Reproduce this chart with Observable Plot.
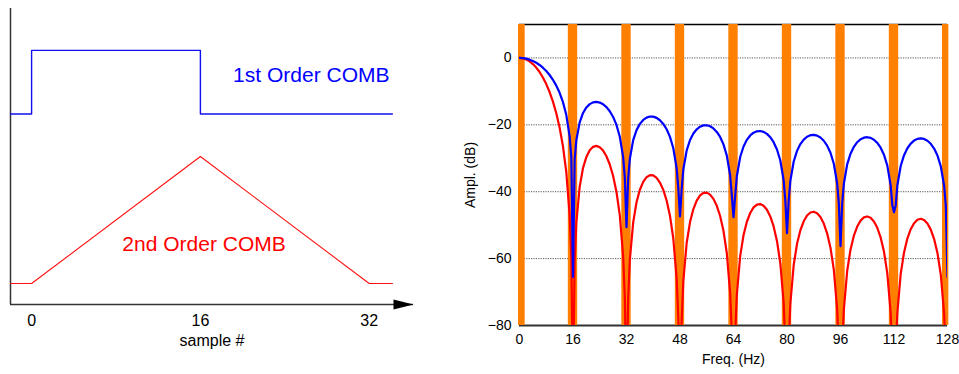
<!DOCTYPE html>
<html>
<head>
<meta charset="utf-8">
<script src="https://cdn.jsdelivr.net/npm/d3@7"></script>
<script src="https://cdn.jsdelivr.net/npm/@observablehq/plot@0.6"></script>
<style>
html, body { margin: 0; padding: 0; background: #fff; }
#wrap { position: relative; width: 959px; height: 374px; overflow: hidden; font-family: "Liberation Sans", Arial, Helvetica, sans-serif; }
#left { position: absolute; left: 0; top: 0; }
#right { position: absolute; left: 430px; top: 0; }
</style>
</head>
<body>
<div id="wrap"><div id="left"></div><div id="right"></div></div>
<script>
// ---------- Left panel data (impulse responses, schematic) ----------
const sampleTicks = [0, 16, 32];
const comb1Sample = [-2, 0, 0, 16, 16, 34.2];
const comb1Level  = [3, 3, 4, 4, 3, 3];
const comb2Sample = [-2, 0, 16, 32, 34.2];
const comb2Level  = [0.33, 0.33, 2.33, 0.33, 0.33];
const labelText   = ["1st Order COMB", "2nd Order COMB"];
const labelSample = [19.1, 8.6];
const labelLevel  = [3.5, 0.84];
const labelColor  = ["#0000ff", "#ff0000"];

// ---------- Right panel data (frequency response, dB) ----------
const freqTicks = [0, 16, 32, 48, 64, 80, 96, 112, 128];
const dbTicks = [0, -20, -40, -60, -80];
const dbGrid = [0, -20, -40, -60];
const bandLo = [-0.3, 14.6, 30.6, 46.6, 62.6, 78.6, 94.6, 110.6, 126.5];
const bandHi = [1.7, 17.4, 33.4, 49.4, 65.4, 81.4, 97.4, 113.4, 128.4];

const comb1Db = [
[0,0],[1,-0.06],[2,-0.22],[3,-0.51],[4,-0.91],[5,-1.44],[6,-2.10],[7,-2.92],[8,-3.91],[9,-5.10],[10,-6.53],[11,-8.27],[12,-10.42],[13,-13.21],[14,-17.08],[15,-23.53],[15.5,-29.78],[16,-65.5],[16.5,-30.32],
[17,-24.60],[18,-19.24],[19,-16.46],[20,-14.80],[21,-13.81],[22,-13.29],[23,-13.15],[24,-13.34],[25,-13.85],[26,-14.70],[27,-15.93],[28,-17.64],[29,-20.03],[30,-23.55],[31,-29.67],[31.5,-35.78],[32,-50.6],[32.5,-36.04],
[33,-30.19],[34,-24.58],[35,-21.58],[36,-19.71],[37,-18.53],[38,-17.83],[39,-17.52],[40,-17.55],[41,-17.92],[42,-18.63],[43,-19.73],[44,-21.31],[45,-23.59],[46,-26.99],[47,-33.01],[47.5,-39.07],[48,-47.4],[48.5,-39.23],
[49,-33.33],[50,-27.63],[51,-24.54],[52,-22.59],[53,-21.33],[54,-20.55],[55,-20.17],[56,-20.13],[57,-20.43],[58,-21.07],[59,-22.11],[60,-23.63],[61,-25.85],[62,-29.20],[63,-35.16],[63.5,-41.19],[64,-47.6],[64.5,-41.29],
[65,-35.37],[66,-29.62],[67,-26.49],[68,-24.49],[69,-23.18],[70,-22.35],[71,-21.93],[72,-21.85],[73,-22.10],[74,-22.70],[75,-23.70],[76,-25.19],[77,-27.36],[78,-30.68],[79,-36.60],[79.5,-42.61],[80,-52.4],[80.5,-42.69],
[81,-36.75],[82,-30.96],[83,-27.79],[84,-25.76],[85,-24.42],[86,-23.56],[87,-23.10],[88,-22.99],[89,-23.22],[90,-23.79],[91,-24.76],[92,-26.22],[93,-28.36],[94,-31.65],[95,-37.55],[95.5,-43.54],[96,-56.3],[96.5,-43.58],
[97,-37.63],[98,-31.82],[99,-28.63],[100,-26.57],[101,-25.20],[102,-24.32],[103,-23.84],[104,-23.70],[105,-23.90],[106,-24.45],[107,-25.39],[108,-26.83],[109,-28.95],[110,-32.21],[111,-38.09],[111.5,-44.07],[112,-46.1],[112.5,-44.09],
[113,-38.13],[114,-32.30],[115,-29.08],[116,-27.00],[117,-25.61],[118,-24.71],[119,-24.20],[120,-24.04],[121,-24.22],[122,-24.75],[123,-25.67],[124,-27.08],[125,-29.18],[126,-32.42],[127,-38.28],[127.5,-44.26],[128,-65.5]
];

const comb2Db = [
[0,0],[1,-0.11],[2,-0.45],[3,-1.01],[4,-1.82],[5,-2.88],[6,-4.21],[7,-5.84],[8,-7.82],[9,-10.19],[10,-13.05],[11,-16.53],[12,-20.85],[13,-26.42],[14,-34.17],[15,-47.06],[15.5,-59.56],[16,-100],[16.5,-60.64],
[17,-49.20],[18,-38.48],[19,-32.92],[20,-29.60],[21,-27.62],[22,-26.58],[23,-26.30],[24,-26.68],[25,-27.70],[26,-29.40],[27,-31.86],[28,-35.28],[29,-40.06],[30,-47.10],[31,-59.34],[31.5,-71.56],[32,-100],[32.5,-72.08],
[33,-60.38],[34,-49.16],[35,-43.16],[36,-39.42],[37,-37.06],[38,-35.66],[39,-35.04],[40,-35.10],[41,-35.84],[42,-37.26],[43,-39.46],[44,-42.62],[45,-47.18],[46,-53.98],[47,-66.02],[47.5,-78.14],[48,-100],[48.5,-78.46],
[49,-66.66],[50,-55.26],[51,-49.08],[52,-45.18],[53,-42.66],[54,-41.10],[55,-40.34],[56,-40.26],[57,-40.86],[58,-42.14],[59,-44.22],[60,-47.26],[61,-51.70],[62,-58.40],[63,-70.32],[63.5,-82.38],[64,-100],[64.5,-82.58],
[65,-70.74],[66,-59.24],[67,-52.98],[68,-48.98],[69,-46.36],[70,-44.70],[71,-43.86],[72,-43.70],[73,-44.20],[74,-45.40],[75,-47.40],[76,-50.38],[77,-54.72],[78,-61.36],[79,-73.20],[79.5,-85.22],[80,-100],[80.5,-85.38],
[81,-73.50],[82,-61.92],[83,-55.58],[84,-51.52],[85,-48.84],[86,-47.12],[87,-46.20],[88,-45.98],[89,-46.44],[90,-47.58],[91,-49.52],[92,-52.44],[93,-56.72],[94,-63.30],[95,-75.10],[95.5,-87.08],[96,-100],[96.5,-87.16],
[97,-75.26],[98,-63.64],[99,-57.26],[100,-53.14],[101,-50.40],[102,-48.64],[103,-47.68],[104,-47.40],[105,-47.80],[106,-48.90],[107,-50.78],[108,-53.66],[109,-57.90],[110,-64.42],[111,-76.18],[111.5,-88.14],[112,-100],[112.5,-88.18],
[113,-76.26],[114,-64.60],[115,-58.16],[116,-54.00],[117,-51.22],[118,-49.42],[119,-48.40],[120,-48.08],[121,-48.44],[122,-49.50],[123,-51.34],[124,-54.16],[125,-58.36],[126,-64.84],[127,-76.56],[127.5,-88.52],[128,-100]
];

const FONT = '"Liberation Sans", Arial, Helvetica, sans-serif';

// ---------- Left panel ----------
const arrowHead = {
  draw(context) {
    context.moveTo(0, 0);
    context.lineTo(-20, -5);
    context.lineTo(-20, 5);
    context.closePath();
  }
};
const idx1 = comb1Sample.map((_, i) => i);
const idx2 = comb2Sample.map((_, i) => i);
const idxL = labelText.map((_, i) => i);

const left = Plot.plot({
  width: 430,
  height: 374,
  marginLeft: 10,
  marginRight: 17,
  marginTop: 8,
  marginBottom: 70,
  style: {fontFamily: FONT, background: "transparent", color: "#000", overflow: "visible"},
  x: {domain: [-2, 36.2]},
  y: {domain: [0, 4.66]},
  marks: [
    Plot.ruleX([-2], {stroke: "#333", strokeWidth: 1.5}),
    Plot.ruleY([0], {stroke: "#333", strokeWidth: 1.5}),
    Plot.dot([0], {frameAnchor: "bottom-right", symbol: arrowHead, fill: "#000", stroke: null}),
    Plot.line(idx1, {x: i => comb1Sample[i], y: i => comb1Level[i], stroke: "#1010ee", strokeWidth: 1.4}),
    Plot.line(idx2, {x: i => comb2Sample[i], y: i => comb2Level[i], stroke: "#ff1010", strokeWidth: 1.1}),
    Plot.text(idxL, {
      x: i => labelSample[i], y: i => labelLevel[i], text: i => labelText[i],
      fill: i => labelColor[i], textAnchor: "start", lineAnchor: "bottom", fontSize: 21
    }),
    Plot.axisX({
      ticks: sampleTicks, tickSize: 0, tickPadding: 10, fontSize: 16,
      label: "sample #", labelAnchor: "center", labelOffset: 41, labelArrow: "none"
    }),
    Plot.axisY({ticks: [], label: null, tickSize: 0})
  ]
});
left.querySelectorAll("text").forEach(t => {});
document.getElementById("left").appendChild(left);

// ---------- Right panel ----------
const right = Plot.plot({
  width: 529,
  height: 374,
  marginLeft: 89,
  marginRight: 12,
  marginTop: 24,
  marginBottom: 49,
  style: {fontFamily: FONT, background: "transparent", color: "#000", overflow: "visible"},
  x: {domain: [0, 128]},
  y: {domain: [-80, 10]},
  marks: [
    Plot.gridY(dbGrid, {stroke: "#555", strokeOpacity: 1, strokeWidth: 1, strokeDasharray: "1.2,1.2"}),
    Plot.ruleY([10], {stroke: "#000", strokeWidth: 1.5}),
    Plot.ruleY([-80], {stroke: "#333", strokeWidth: 2}),
    Plot.rect(bandLo.map((_, i) => i), {x1: i => bandLo[i], x2: i => bandHi[i], fill: "#ff8000"}),
    Plot.line(comb2Db, {x: d => d[0], y: d => d[1], stroke: "#ff0000", strokeWidth: 2.2, clip: true}),
    Plot.line(comb1Db, {x: d => d[0], y: d => d[1], stroke: "#0000ff", strokeWidth: 2.2, clip: true}),
    Plot.axisX({
      ticks: freqTicks, tickSize: 0, tickPadding: 9, fontSize: 14,
      label: "Freq. (Hz)", labelAnchor: "center", labelOffset: 38, labelArrow: "none"
    }),
    Plot.axisY({
      ticks: dbTicks, tickSize: 0, tickPadding: 8, fontSize: 14,
      label: "Ampl. (dB)", labelAnchor: "center", labelOffset: 54, labelArrow: "none"
    })
  ]
});
document.getElementById("right").appendChild(right);
</script>
</body>
</html>
